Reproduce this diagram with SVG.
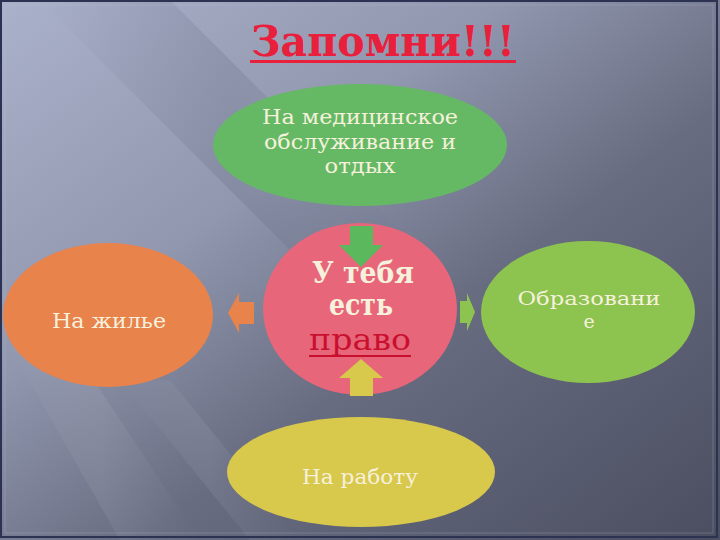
<svg xmlns="http://www.w3.org/2000/svg" width="720" height="540" viewBox="0 0 720 540">
<defs>
<linearGradient id="bg" x1="0" y1="0" x2="1" y2="1">
<stop offset="0" stop-color="#aab1ca"/>
<stop offset="0.35" stop-color="#9097ae"/>
<stop offset="0.6" stop-color="#686c81"/>
<stop offset="1" stop-color="#4b4e60"/>
</linearGradient>
<linearGradient id="streak" x1="0" y1="0" x2="1" y2="0">
<stop offset="0" stop-color="#ffffff" stop-opacity="0"/>
<stop offset="0.5" stop-color="#ffffff" stop-opacity="0.07"/>
<stop offset="1" stop-color="#ffffff" stop-opacity="0"/>
</linearGradient>
<linearGradient id="dark" x1="0" y1="0" x2="1" y2="0">
<stop offset="0" stop-color="#3a3f55" stop-opacity="0"/>
<stop offset="0.5" stop-color="#3a3f55" stop-opacity="0.14"/>
<stop offset="1" stop-color="#3a3f55" stop-opacity="0"/>
</linearGradient>
<style>
.lbl{font-family:"DejaVu Serif","Liberation Serif",serif;fill:#f6f1dc;text-anchor:middle}
.big{font-weight:bold}
.title{font-family:"DejaVu Serif","Liberation Serif",serif;font-weight:bold;fill:#e8203c;text-anchor:middle}
</style>
</defs>
<rect width="720" height="540" fill="url(#bg)"/>
<polygon points="40,0 170,0 420,250 290,250" fill="url(#dark)"/>
<polygon points="0,330 60,330 200,540 120,540" fill="url(#streak)"/>
<polygon points="120,380 170,380 300,540 250,540" fill="url(#streak)"/>
<rect x="1" y="1" width="716" height="536" fill="none" stroke="#2c3252" stroke-width="2"/>
<rect x="5" y="5" width="708" height="528" fill="none" stroke="#c3c8da" stroke-width="0.6" opacity="0.4"/>

<g id="title">
<text class="title" x="383" y="56" font-size="42" textLength="264" lengthAdjust="spacingAndGlyphs">Запомни!!!</text>
<rect x="250" y="60" width="266" height="3" fill="#e8203c"/>
</g>

<g id="node-medical">
<ellipse cx="360" cy="145" rx="147" ry="61" fill="#65b964"/>
<text class="lbl" font-size="20" x="360" y="124" textLength="196" lengthAdjust="spacingAndGlyphs">На медицинское</text>
<text class="lbl" font-size="20" x="360" y="149" textLength="192" lengthAdjust="spacingAndGlyphs">обслуживание и</text>
<text class="lbl" font-size="20" x="360" y="173" textLength="71" lengthAdjust="spacingAndGlyphs">отдых</text>
</g>

<g id="node-housing">
<ellipse cx="108" cy="315" rx="105" ry="72" fill="#e8834c"/>
<text class="lbl" font-size="21" x="109" y="328" textLength="114" lengthAdjust="spacingAndGlyphs">На жилье</text>
</g>

<g id="node-education">
<ellipse cx="588" cy="312" rx="107" ry="71" fill="#8dc34f"/>
<text class="lbl" font-size="19" x="589" y="305" textLength="143" lengthAdjust="spacingAndGlyphs">Образовани</text>
<text class="lbl" font-size="19" x="589" y="328">е</text>
</g>

<g id="node-work">
<ellipse cx="361" cy="472" rx="134" ry="55" fill="#d8c84b"/>
<text class="lbl" font-size="21" x="360" y="484" textLength="116" lengthAdjust="spacingAndGlyphs">На работу</text>
</g>

<g id="node-center">
<ellipse cx="360" cy="309" rx="97" ry="86" fill="#e8667a"/>
</g>

<g id="connectors">
<polygon points="350,226 373,226 373,245 383,245 361,267 339,245 350,245" fill="#5cb85c"/>
<polygon points="350,396 373,396 373,378 383,378 361,359 339,378 350,378" fill="#d8c84b"/>
<polygon points="254,302 239,302 239,293 228,313 239,333 239,324 254,324" fill="#e8834c"/>
<polygon points="460,301 467,301 467,293 475,312 467,331 467,323 460,323" fill="#8dc34f"/>
</g>

<g id="center-text">
<text class="lbl big" font-size="30" x="363" y="283" textLength="102" lengthAdjust="spacingAndGlyphs">У тебя</text>
<text class="lbl big" font-size="30" x="361" y="315" textLength="64" lengthAdjust="spacingAndGlyphs">есть</text>
<text x="360" y="350" font-size="30" text-anchor="middle" font-family="'DejaVu Serif','Liberation Serif',serif" fill="#c8102e" textLength="102" lengthAdjust="spacingAndGlyphs">право</text>
<rect x="309" y="355" width="102" height="2" fill="#c8102e"/>
</g>
</svg>
